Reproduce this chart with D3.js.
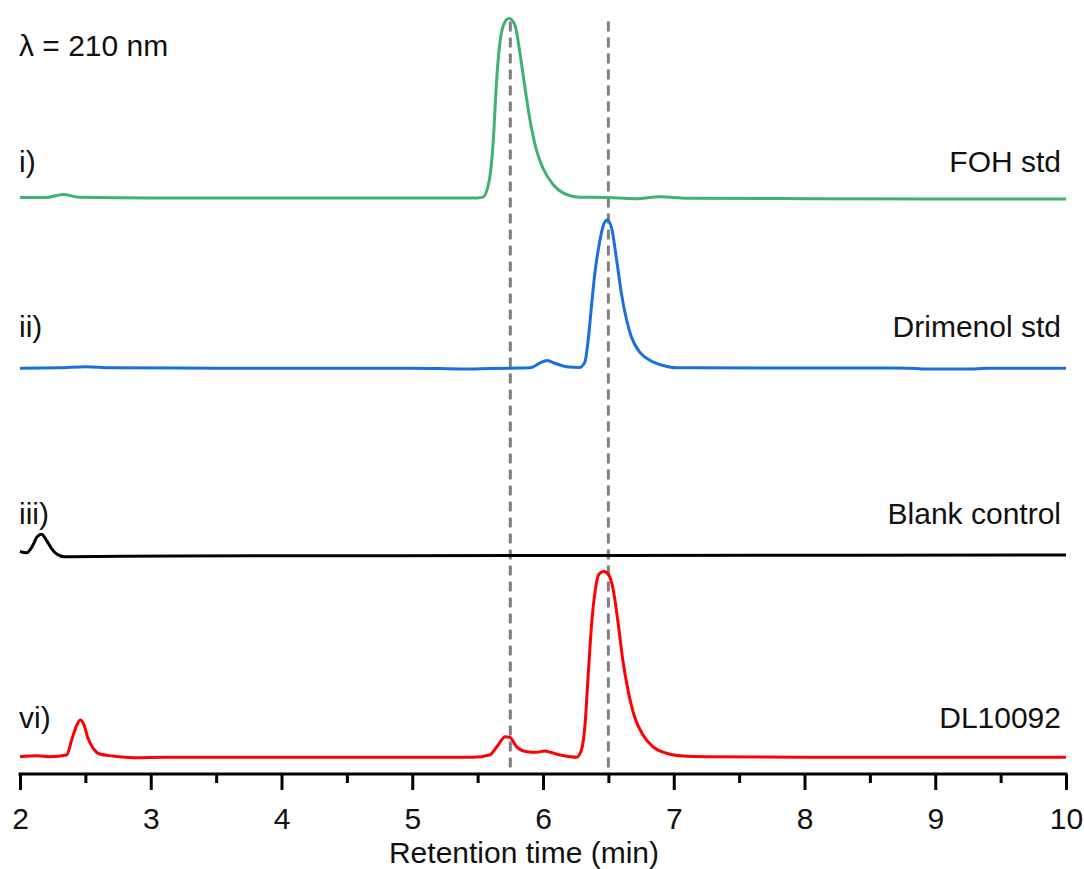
<!DOCTYPE html>
<html>
<head>
<meta charset="utf-8">
<script src="https://cdn.jsdelivr.net/npm/d3@7"></script>
<style>
  html, body { margin: 0; padding: 0; background: #fff; }
  svg { display: block; }
  text { font-family: "Liberation Sans", Arial, sans-serif; fill: #111; }
</style>
</head>
<body>
<svg id="chart" width="1084" height="869"></svg>
<script>
// ---- data ----
const traceNames = ["FOH std", "Drimenol std", "Blank control", "DL10092"];
const traceTags = ["i)", "ii)", "iii)", "vi)"];
const traceColors = ["#3cb371", "#1a6fdf", "#000000", "#ff0000"];
const traceOffsets = [75.8, 53.4, 28.7, 2.24];   // vertical stacking offsets (signal units)
const wavelengthLabel = "λ = 210 nm";
const xTickValues = [2, 3, 4, 5, 6, 7, 8, 9, 10];
const xMinorTicks = [2.5, 3.5, 4.5, 5.5, 6.5, 7.5, 8.5, 9.5];
const refLines = [5.75, 6.5];
const xTitle = "Retention time (min)";

const fohTime = [2.0, 2.2, 2.33, 2.45, 3.0, 4.0, 5.0, 5.5, 5.54, 5.59, 5.62, 5.644, 5.67, 5.71, 5.741, 5.784, 5.82, 5.861, 5.9, 5.95, 6.0, 6.08, 6.15, 6.28, 6.5, 6.7, 6.9, 7.1, 8.0, 10.0];
const fohSignal = [0.07, 0.05, 0.45, 0.1, 0.0, 0.0, 0.0, 0.0, 0.1, 2.4, 7.6, 15.1, 20.4, 23.2, 23.6, 22.8, 19.5, 14.6, 10.3, 6.3, 3.9, 1.7, 0.7, 0.1, 0.05, -0.1, 0.15, -0.05, -0.1, -0.15];

const drimTime = [2.0, 2.3, 2.5, 2.7, 3.5, 5.0, 5.42, 5.52, 5.75, 5.9, 5.975, 6.03, 6.1, 6.18, 6.28, 6.32, 6.345, 6.37, 6.396, 6.43, 6.46, 6.49, 6.524, 6.56, 6.6, 6.64, 6.676, 6.74, 6.82, 6.92, 7.02, 8.8, 8.9, 9.3, 9.4, 10.0];
const drimSignal = [0.0, 0.05, 0.2, 0.05, 0.0, 0.0, -0.12, -0.08, 0.0, 0.05, 0.66, 1.0, 0.58, 0.2, 0.1, 0.8, 3.6, 8.0, 12.4, 16.3, 18.7, 19.5, 18.5, 14.6, 9.8, 6.3, 4.1, 2.1, 1.0, 0.35, 0.05, 0.0, -0.12, -0.12, 0.0, 0.0];

const blankTime = [2.0, 2.05, 2.1, 2.13, 2.166, 2.2, 2.24, 2.28, 2.34, 3.2, 6.6, 10.0];
const blankSignal = [0.57, 0.4, 1.45, 2.5, 2.85, 2.1, 1.0, 0.26, -0.1, 0.0, 0.05, 0.13];

const dlTime = [2.0, 2.13, 2.23, 2.357, 2.395, 2.43, 2.46, 2.49, 2.52, 2.56, 2.61, 2.71, 2.87, 3.12, 5.466, 5.59, 5.657, 5.71, 5.746, 5.797, 5.874, 5.95, 6.014, 6.1, 6.205, 6.256, 6.294, 6.32, 6.345, 6.37, 6.396, 6.43, 6.465, 6.505, 6.536, 6.574, 6.61, 6.65, 6.7, 6.765, 6.84, 6.944, 7.07, 7.25, 8.0, 10.0];
const dlSignal = [0.04, 0.17, 0.04, 0.26, 2.24, 4.0, 4.87, 4.21, 2.46, 1.14, 0.39, 0.13, -0.09, -0.04, -0.04, 0.26, 1.58, 2.67, 2.59, 1.36, 0.7, 0.62, 0.79, 0.39, 0.04, -0.04, 0.92, 4.0, 10.6, 17.1, 21.5, 24.1, 24.4, 23.9, 22.1, 17.7, 12.8, 8.8, 5.3, 2.9, 1.36, 0.49, 0.13, 0.04, -0.04, -0.04];

const traceTimes = [fohTime, drimTime, blankTime, dlTime];
const traceSignals = [fohSignal, drimSignal, blankSignal, dlSignal];

// ---- layout ----
const svg = d3.select("#chart");
const axisY = 774;
const x = d3.scaleLinear().domain([2, 10]).range([20, 1066]);
const y = d3.scaleLinear().domain([0, 100]).range([774, 14]);
const fontSize = 30;

// reference dashed lines
svg.append("g").selectAll("line").data(refLines).join("line")
  .attr("x1", d => x(d)).attr("x2", d => x(d))
  .attr("y1", y(99)).attr("y2", y(0.8))
  .attr("stroke", "#7f7f7f").attr("stroke-width", 3)
  .attr("stroke-dasharray", "10,6");

// traces
const line = d3.line().curve(d3.curveMonotoneX);
traceNames.forEach((name, i) => {
  const pts = traceTimes[i].map((t, j) => [x(t), y(traceSignals[i][j] + traceOffsets[i])]);
  svg.append("path")
    .attr("d", line(pts))
    .attr("fill", "none")
    .attr("stroke", traceColors[i])
    .attr("stroke-width", 3)
    .attr("stroke-linejoin", "round");
});

// labels
const labelBaselines = [172, 337, 524, 728];
traceNames.forEach((name, i) => {
  svg.append("text").attr("x", 19).attr("y", labelBaselines[i])
    .attr("font-size", fontSize).text(traceTags[i]);
  svg.append("text").attr("x", 1061).attr("y", labelBaselines[i])
    .attr("font-size", fontSize).attr("text-anchor", "end").text(name);
});
svg.append("text").attr("x", 19).attr("y", 56)
  .attr("font-size", fontSize).text(wavelengthLabel);

// x axis
const gAxis = svg.append("g").attr("transform", `translate(0,${axisY})`);
gAxis.call(d3.axisBottom(x).tickValues(xTickValues).tickSize(16).tickSizeOuter(0).tickFormat(d3.format("d")));
gAxis.select(".domain").attr("stroke", "#000").attr("stroke-width", 3)
  .attr("d", `M${x(2) - 1.5},0H${x(10) + 1.5}`);
gAxis.selectAll(".tick line").attr("stroke", "#000").attr("stroke-width", 3);
gAxis.selectAll(".tick text")
  .attr("y", 55).attr("dy", 0)
  .attr("font-size", fontSize)
  .attr("font-family", "Liberation Sans, Arial, sans-serif")
  .attr("fill", "#111");

const gMinor = svg.append("g").attr("transform", `translate(0,${axisY})`);
gMinor.call(d3.axisBottom(x).tickValues(xMinorTicks).tickSize(9).tickSizeOuter(0).tickFormat(""));
gMinor.select(".domain").remove();
gMinor.selectAll(".tick line").attr("stroke", "#000").attr("stroke-width", 3);

svg.append("text").attr("x", 524).attr("y", 862.5)
  .attr("font-size", fontSize).attr("text-anchor", "middle").text(xTitle);
</script>
</body>
</html>
